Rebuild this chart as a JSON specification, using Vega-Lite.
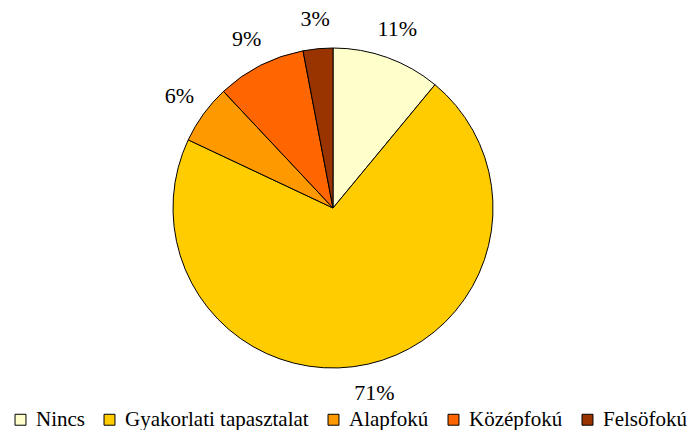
{
  "$schema": "https://vega.github.io/schema/vega-lite/v6.json",
  "width": 666,
  "height": 416,
  "autosize": {"type": "none"},
  "padding": {"left": 0, "top": 0, "right": 23, "bottom": 14},
  "background": "white",
  "config": {"view": {"stroke": null}, "font": "'Liberation Serif', serif"},
  "data": {"values": [
    {"cat": "Nincs", "value": 11, "label": "11%", "order": 1},
    {"cat": "Gyakorlati tapasztalat", "value": 71, "label": "71%", "order": 2},
    {"cat": "Alapfokú", "value": 6, "label": "6%", "order": 3},
    {"cat": "Középfokú", "value": 9, "label": "9%", "order": 4},
    {"cat": "Felsöfokú", "value": 3, "label": "3%", "order": 5}
  ]},
  "encoding": {
    "theta": {"field": "value", "type": "quantitative", "stack": true},
    "order": {"field": "order", "type": "quantitative"},
    "color": {
      "field": "cat", "type": "nominal",
      "scale": {
        "domain": ["Nincs", "Gyakorlati tapasztalat", "Alapfokú", "Középfokú", "Felsöfokú"],
        "range": ["#FFFFCC", "#FFCC00", "#FF9900", "#FF6600", "#993300"]
      },
      "legend": {
        "title": null,
        "orient": "none",
        "legendX": 10,
        "legendY": 409,
        "direction": "horizontal",
        "columns": 5,
        "symbolType": "square",
        "symbolSize": 120,
        "symbolStrokeColor": "black",
        "symbolStrokeWidth": 1,
        "labelFont": "'Liberation Serif', serif",
        "labelFontSize": 21,
        "labelColor": "black",
        "labelOffset": 5,
        "columnPadding": 14,
        "labelLimit": 400
      }
    }
  },
  "layer": [
    {"mark": {"type": "arc", "outerRadius": 160, "stroke": "black", "strokeWidth": 1}},
    {
      "mark": {"type": "text", "radius": 190, "fontSize": 22, "font": "'Liberation Serif', serif", "color": "black", "baseline": "middle", "align": "center"},
      "encoding": {"text": {"field": "label"}, "color": {"value": "black"}}
    }
  ]
}
